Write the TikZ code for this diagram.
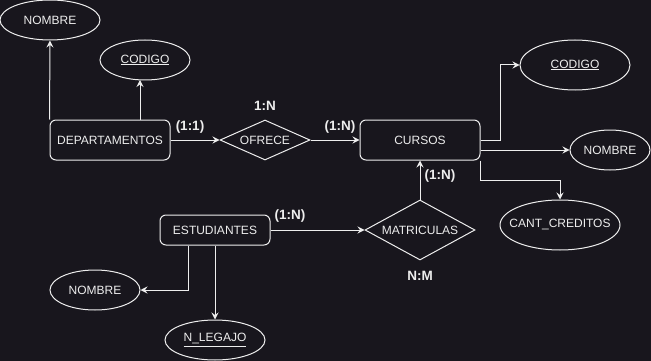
\documentclass[tikz,border=0pt]{standalone}
\usepackage{fontspec}
\setmainfont{Liberation Sans}
\usetikzlibrary{shapes.geometric,arrows.meta}
\definecolor{bg}{RGB}{24,22,29}
\definecolor{ink}{RGB}{238,238,238}
% zero-width text so that an ellipse keeps its given size
\newcommand{\attrtext}[1]{\makebox[0pt]{#1}}
\begin{document}
\begin{tikzpicture}[x=1pt,y=-1pt,
  every node/.style={text=ink,font=\fontsize{12}{14}\selectfont,inner sep=0pt},
  entity/.style={draw=ink,line width=1pt,rounded corners=6pt,minimum width=120pt,minimum height=40pt},
  attrib/.style={draw=ink,line width=1pt,ellipse},
  relation/.style={draw=ink,line width=1pt,diamond},
  card/.style={font=\bfseries\fontsize{13.5}{15}\selectfont},
  arr/.style={draw=ink,line width=1pt,-{Stealth[length=7pt,width=7pt,inset=2.5pt]}}]
% canvas
\fill[bg] (0,0) rectangle (651,361);
\useasboundingbox (0,0) rectangle (651,361);

% entities
\node[entity] (dept) at (110,140) {DEPARTAMENTOS};
\node[entity] (cursos) at (420,140) {CURSOS};
\node[entity,minimum width=110pt,minimum height=30pt] (est) at (215,230) {ESTUDIANTES};

% relationships
\node[relation,minimum width=90pt,minimum height=40pt,aspect=2.25] (ofrece) at (265,140) {OFRECE};
\node[relation,minimum width=110pt,minimum height=60pt,aspect=1.83] (matr) at (420,230) {MATRICULAS};

% attributes
\node[attrib,minimum width=100pt,minimum height=40pt] (nom1) at (50,20) {\attrtext{NOMBRE}};
\node[attrib,minimum width=90pt,minimum height=40pt] (cod1) at (145,60) {\attrtext{\underline{CODIGO}}};
\node[attrib,minimum width=110pt,minimum height=50pt] (cod2) at (575,65) {\attrtext{\underline{CODIGO}}};
\node[attrib,minimum width=80pt,minimum height=40pt] (nom2) at (610,150) {\attrtext{NOMBRE}};
\node[attrib,minimum width=120pt,minimum height=50pt] (cant) at (560,225) {\attrtext{CANT\_CREDITOS}};
\node[attrib,minimum width=90pt,minimum height=40pt] (nom3) at (95,290) {\attrtext{NOMBRE}};
\node[attrib,minimum width=100pt,minimum height=40pt] (leg) at (215,340) {\attrtext{\underline{N\_LEGAJO}}};

% cardinality labels
\node[card] (c11) at (190,127) {(1:1)};
\node[card] (c1n) at (265,106) {1:N};
\node[card] (c1nb) at (340,127) {(1:N)};
\node[card] (c1nc) at (440,176) {(1:N)};
\node[card] (c1nd) at (290,216) {(1:N)};
\node[card] (cnm) at (420,276) {N:M};

% connectors
\coordinate (cod1in) at (140,80);
\draw[arr] (dept.north west) -- (nom1.south);
\draw[arr] (dept.north -| cod1in) -- (cod1in);
\draw[arr] (dept.east) -- (ofrece.west);
\draw[arr] (ofrece.east) -- (cursos.west);
\draw[arr] (cursos.east) -- ++(20,0) |- (cod2.west);
\draw[arr] (cursos.east |- nom2.west) -- (nom2.west);
\draw[arr] (cursos.south east) -- ++(0,20) -| (cant.north);
\draw[arr] (matr.north) -- (cursos.south);
\draw[arr] (est.east) -- (matr.west);
\draw[arr] ([xshift=-27pt]est.south) |- (nom3.east);
\draw[arr] (est.south) -- (leg.north);
\end{tikzpicture}
\end{document}
